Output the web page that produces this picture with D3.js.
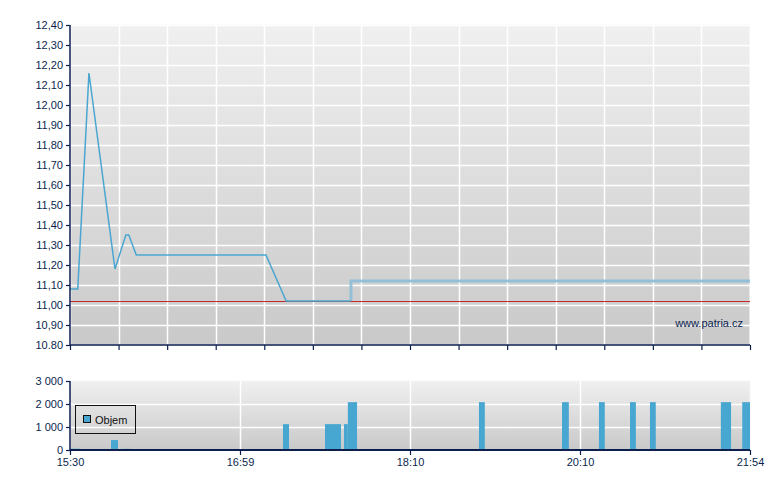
<!DOCTYPE html>
<html>
<head>
<meta charset="utf-8">
<script src="https://cdn.jsdelivr.net/npm/d3@7/dist/d3.min.js"></script>
<style>
html,body{margin:0;padding:0;background:#fff;}
svg{display:block;font-family:"Liberation Sans",Arial,sans-serif;}
</style>
</head>
<body>
<svg id="chart" width="780" height="490"></svg>
<script>
// ---- data (x in trade-slot units, 0..140) ----
const priceValues = [[0,11.08],[1.6,11.08],[3.9,12.16],[9.26,11.18],[11.5,11.35],[12.1,11.35],[13.65,11.25],[40.35,11.25],[44.5,11.02],[57.8,11.02]];
const afterValues = [[57.85,11.02],[57.85,11.12],[140,11.12]];
const refPrice = 11.02;
const volumeBars = [
  [0,2.06,55],[8.44,9.88,433],[10.7,12.56,50],[43.85,45.09,1125],
  [52.5,55.8,1125],[56.4,57.2,1125],[57.2,59.1,2080],[84.2,85.4,2080],
  [101.3,102.7,2080],[108.9,110.1,2080],[115.3,116.5,2080],[119.4,120.6,2080],
  [134.0,136.1,2080],[138.4,140,2080]
];
const priceTicks = [10.8,10.9,11.0,11.1,11.2,11.3,11.4,11.5,11.6,11.7,11.8,11.9,12.0,12.1,12.2,12.3,12.4];
const priceTickLabels = ["10.80","10,90","11,00","11,10","11,20","11,30","11,40","11,50","11,60","11,70","11,80","11,90","12,00","12,10","12,20","12,30","12,40"];
const volTicks = [0,1000,2000,3000];
const volTickLabels = ["0","1 000","2 000","3 000"];
const timePos = [0,35,70,105,140];
const timeLabels = ["15:30","16:59","18:10","20:10","21:54"];
const gridPos = d3.range(0,141,10);

const navy = "#0b1f4f";
const svg = d3.select("#chart");
const x = d3.scaleLinear().domain([0,140]).range([70,750]);
const yP = d3.scaleLinear().domain([10.8,12.4]).range([345,25]);
const yV = d3.scaleLinear().domain([0,3000]).range([450,381]);

const defs = svg.append("defs");
function grad(id, c1, c2){
  const g = defs.append("linearGradient").attr("id",id).attr("x1",0).attr("y1",0).attr("x2",0).attr("y2",1);
  g.append("stop").attr("offset","0%").attr("stop-color",c1);
  g.append("stop").attr("offset","100%").attr("stop-color",c2);
}
grad("bgTop","#f0f0f0","#c9c9c9");
grad("bgBot","#f0f0f0","#c9c9c9");

// ---- top panel ----
const topG = svg.append("g");
topG.append("rect").attr("x",x(0)).attr("y",yP(12.4)).attr("width",x(140)-x(0)).attr("height",yP(10.8)-yP(12.4))
  .attr("fill","url(#bgTop)").attr("stroke","#f6f6f6").attr("stroke-width",1);
topG.append("g").selectAll("line").data(priceTicks).join("line")
  .attr("x1",x(0)).attr("x2",x(140)).attr("y1",d=>Math.round(yP(d))+0.5).attr("y2",d=>Math.round(yP(d))+0.5)
  .attr("stroke","#fff").attr("stroke-width",1.5);
topG.append("g").selectAll("line").data(gridPos).join("line")
  .attr("y1",yP(12.4)).attr("y2",yP(10.8)).attr("x1",d=>Math.round(x(d))+0.5).attr("x2",d=>Math.round(x(d))+0.5)
  .attr("stroke","#fff").attr("stroke-width",1.5);

topG.append("line").attr("x1",x(0)).attr("x2",x(140))
  .attr("y1",Math.round(yP(refPrice))+0.5).attr("y2",Math.round(yP(refPrice))+0.5)
  .attr("stroke","#c02a2a").attr("stroke-width",1);

const line = d3.line().x(d=>x(d[0])).y(d=>yP(d[1]));
topG.append("path").datum(afterValues).attr("d",line).attr("fill","none")
  .attr("stroke","#8dbdd8").attr("stroke-width",3).attr("stroke-opacity",0.9);
topG.append("path").datum(priceValues).attr("d",line).attr("fill","none")
  .attr("stroke","#4aa6d0").attr("stroke-width",1.5);

const axP = topG.append("g").attr("transform",`translate(${x(0)},0)`)
  .call(d3.axisLeft(yP).tickValues(priceTicks).tickFormat((d,i)=>priceTickLabels[i]).tickSize(4).tickPadding(3));
const axPx = topG.append("g").attr("transform",`translate(0,${yP(10.8)})`)
  .call(d3.axisBottom(x).tickValues(gridPos).tickFormat("").tickSize(5));

topG.append("text").attr("x",743).attr("y",327).attr("text-anchor","end")
  .attr("font-size",11).attr("fill",navy).text("www.patria.cz");

// ---- bottom panel ----
const botG = svg.append("g");
botG.append("rect").attr("x",x(0)).attr("y",yV(3000)).attr("width",x(140)-x(0)).attr("height",yV(0)-yV(3000))
  .attr("fill","url(#bgBot)").attr("stroke","#f6f6f6").attr("stroke-width",1);
botG.append("g").selectAll("line").data(volTicks.slice(1,3)).join("line")
  .attr("x1",x(0)).attr("x2",x(140)).attr("y1",d=>Math.round(yV(d))+0.5).attr("y2",d=>Math.round(yV(d))+0.5)
  .attr("stroke","#fff").attr("stroke-width",1.5);
botG.append("g").selectAll("line").data(timePos.slice(1,4)).join("line")
  .attr("y1",yV(3000)).attr("y2",yV(0)).attr("x1",d=>Math.round(x(d))+0.5).attr("x2",d=>Math.round(x(d))+0.5)
  .attr("stroke","#fff").attr("stroke-width",1.5);

botG.append("g").selectAll("rect").data(volumeBars).join("rect")
  .attr("x",d=>x(d[0])).attr("width",d=>x(d[1])-x(d[0]))
  .attr("y",d=>yV(d[2])).attr("height",d=>yV(0)-yV(d[2]))
  .attr("fill","#47a7d0");

const axV = botG.append("g").attr("transform",`translate(${x(0)},0)`)
  .call(d3.axisLeft(yV).tickValues(volTicks).tickFormat((d,i)=>volTickLabels[i]).tickSize(4).tickPadding(3));
const axT = botG.append("g").attr("transform",`translate(0,${yV(0)})`)
  .call(d3.axisBottom(x).tickValues(timePos).tickFormat((d,i)=>timeLabels[i]).tickSize(5).tickPadding(3));

// legend
const lg = botG.append("g");
lg.append("rect").attr("x",75.5).attr("y",405.5).attr("width",60).attr("height",28)
  .attr("fill","none").attr("stroke","#111").attr("stroke-width",1);
lg.append("rect").attr("x",83.5).attr("y",415.5).attr("width",7).attr("height",7)
  .attr("fill","#47a7d0").attr("stroke","#111").attr("stroke-width",1);
lg.append("text").attr("x",95).attr("y",424).attr("font-size",11).attr("fill","#111").text("Objem");

// axis styling
svg.selectAll(".domain").attr("stroke",navy).attr("stroke-width",1.5);
svg.selectAll(".tick line").attr("stroke",navy).attr("stroke-width",1.2);
svg.selectAll(".tick text").attr("fill",navy).attr("font-size",11).attr("font-family","'Liberation Sans',Arial,sans-serif");
axP.select(".domain").attr("d",`M0,${yP(12.4)}V${yP(10.8)}`);
axV.select(".domain").attr("d",`M0,${yV(3000)}V${yV(0)}`);
axPx.select(".domain").attr("d",`M${x(0)},0H${x(140)}`);
axT.select(".domain").attr("d",`M${x(0)},0H${x(140)}`).attr("stroke-width",2);
</script>
</body>
</html>
